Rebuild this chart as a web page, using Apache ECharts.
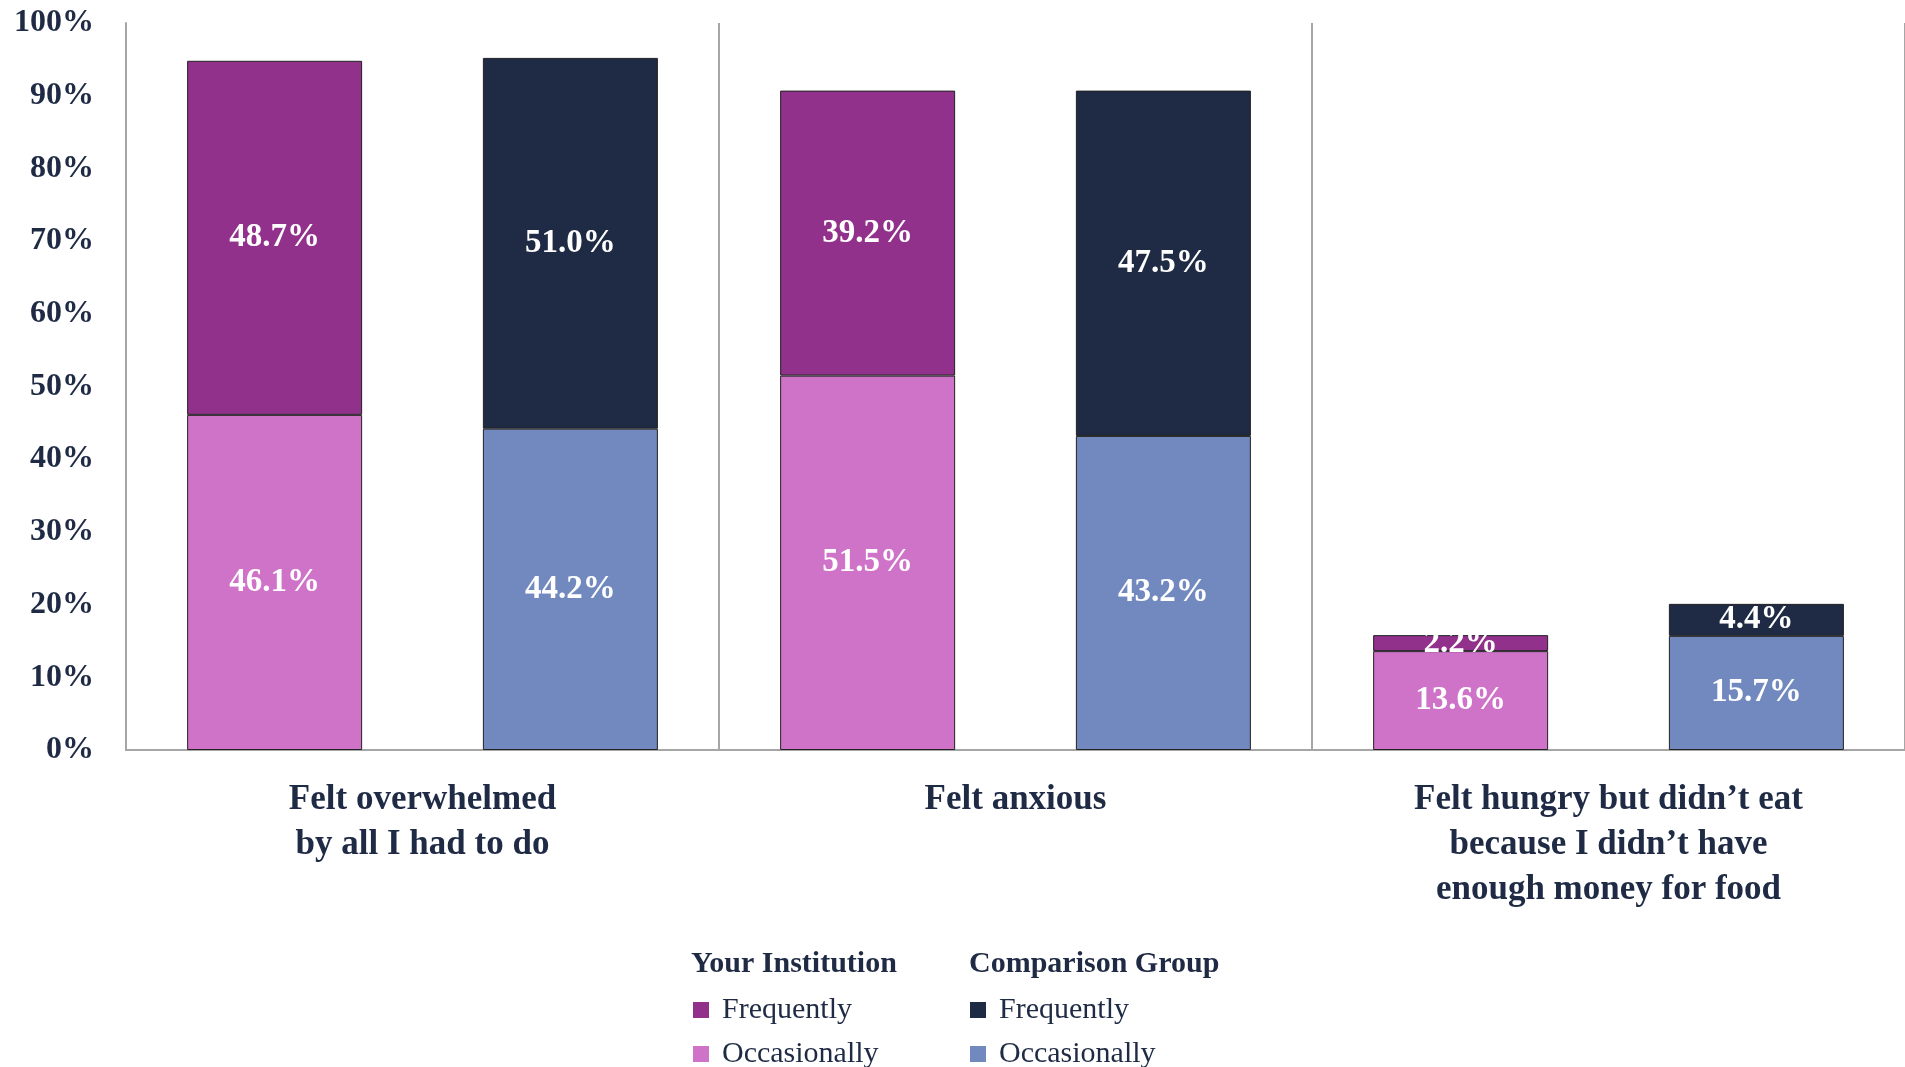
<!DOCTYPE html>
<html>
<head>
<meta charset="utf-8">
<title>Stress indicators</title>
<script src="https://cdn.jsdelivr.net/npm/echarts@6/dist/echarts.min.js"></script>
<style>
  html, body { margin: 0; padding: 0; background: #fff; overflow: hidden; }
  #chart { width: 1905px; height: 1067px; }
</style>
</head>
<body>
<div id="chart"></div>
<script>
const categories = [
  'Felt overwhelmed\nby all I had to do',
  'Felt anxious',
  'Felt hungry but didn\u2019t eat\nbecause I didn\u2019t have\nenough money for food'
]
const yTicks = [0, 10, 20, 30, 40, 50, 60, 70, 80, 90, 100]

// Your Institution
const instOccasionally = [46.1, 51.5, 13.6]
const instFrequently = [48.7, 39.2, 2.2]
// Comparison Group
const compOccasionally = [44.2, 43.2, 15.7]
const compFrequently = [51.0, 47.5, 4.4]

const serif = '"Liberation Serif", "DejaVu Serif", serif'
const navy = '#1F2A44'

const chart = echarts.init(document.getElementById('chart'))

const barLabel = {
  show: true,
  position: 'inside',
  color: '#fff',
  fontFamily: serif,
  fontWeight: 'bold',
  fontSize: 33,
  formatter: p => p.value.toFixed(1) + '%'
}

const makeSeries = (name, data, stack, color) => ({
  name: name,
  type: 'bar',
  stack: stack,
  data: data,
  barWidth: 175,
  barGap: '69%',
  itemStyle: { color: color, borderColor: '#222', borderWidth: 1 },
  label: barLabel
})

const legendBase = {
  orient: 'vertical',
  icon: 'rect',
  itemWidth: 16,
  itemHeight: 16,
  itemGap: 14,
  top: 990,
  height: 120,
  selectedMode: false,
  itemStyle: { borderWidth: 0 },
  formatter: name => name.split('|')[1],
  textStyle: {
    fontFamily: serif,
    fontSize: 30,
    lineHeight: 30,
    color: navy,
    padding: [0, 0, 0, 8]
  }
}

chart.setOption({
  animation: false,
  grid: { left: 126, right: -6, top: 23, bottom: 317 },
  xAxis: {
    type: 'category',
    data: categories,
    axisLine: { lineStyle: { color: '#A6A6A6', width: 2 } },
    axisTick: { show: false },
    splitLine: { show: true, lineStyle: { color: '#A6A6A6', width: 2 } },
    axisLabel: {
      margin: 27,
      fontFamily: serif,
      fontWeight: 'bold',
      fontSize: 35,
      lineHeight: 45,
      color: navy,
      interval: 0
    }
  },
  yAxis: {
    type: 'value',
    min: yTicks[0],
    max: yTicks[yTicks.length - 1],
    interval: 10,
    axisLine: { show: true, lineStyle: { color: '#A6A6A6', width: 2 } },
    axisTick: { show: false },
    splitLine: { show: false },
    axisLabel: {
      margin: 32,
      fontFamily: serif,
      fontWeight: 'bold',
      fontSize: 32,
      color: navy,
      formatter: '{value}%'
    }
  },
  legend: [
    Object.assign({}, legendBase, {
      left: 688,
      data: ['Your Institution|Frequently', 'Your Institution|Occasionally']
    }),
    Object.assign({}, legendBase, {
      left: 965,
      data: ['Comparison Group|Frequently', 'Comparison Group|Occasionally']
    })
  ],
  graphic: [
    {
      type: 'text', left: 691, top: 949,
      style: { text: 'Your Institution', font: 'bold 30px ' + serif, fill: navy }
    },
    {
      type: 'text', left: 969, top: 949,
      style: { text: 'Comparison Group', font: 'bold 30px ' + serif, fill: navy }
    }
  ],
  series: [
    makeSeries('Your Institution|Occasionally', instOccasionally, 'inst', '#CF73C8'),
    makeSeries('Your Institution|Frequently', instFrequently, 'inst', '#92318B'),
    makeSeries('Comparison Group|Occasionally', compOccasionally, 'comp', '#7289C0'),
    makeSeries('Comparison Group|Frequently', compFrequently, 'comp', '#1F2A44')
  ]
})

window.addEventListener('resize', () => chart.resize())
</script>
</body>
</html>
